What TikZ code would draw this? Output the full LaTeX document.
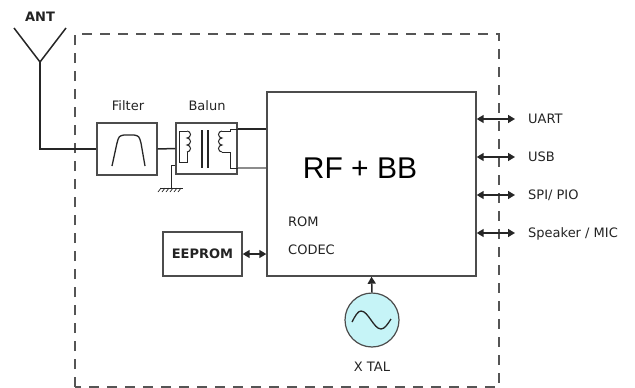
\documentclass[tikz,border=0pt]{standalone}
\usepackage{fontspec}
\setmainfont{Liberation Sans}
\newfontfamily\labelFont{DejaVu Sans}
\usetikzlibrary{positioning,arrows.meta}
\tikzstyle{sheet} = [x = 1pt, y = -1pt]
\definecolor{borderColor}{RGB}{85,85,85}
\definecolor{xtalColor}{RGB}{198,244,247}
\definecolor{textColor}{RGB}{35,35,35}
\tikzstyle{blockStyle} = [draw=black!70, line width=1.4pt, fill=white, inner sep=0pt]
\tikzstyle{borderStyle} = [color=borderColor, line width=2.6pt, dash pattern=on 10pt off 8pt]
\tikzstyle{wireStyle} = [color=black!85, line width=1.5pt]
\tikzstyle{thinWire} = [color=black!85, line width=1pt]
\tikzstyle{labelText} = [font=\labelFont\fontsize{13}{13}\selectfont, text=textColor, inner sep=0pt, text height=9.4pt, text depth=0pt]
\tikzstyle{tipStyle} = [wireStyle, {Triangle[length=7pt,width=8pt]}-{Triangle[length=7pt,width=8pt]}]
\newcommand{\coilRight}[2]{\draw [thinWire] (#1,#2) arc (-90:90:3.5) arc (-90:90:3.5) arc (-90:90:3.5);}
\newcommand{\coilLeft}[2]{\draw [thinWire] (#1,#2) arc (-90:-270:3.5) arc (-90:-270:3.5) arc (-90:-270:3.5);}
\newcommand{\groundHatch}[2]{
  \draw [thinWire] (#1 - 11, #2) -- + (23,0);
  \foreach \hatch in {0,...,5} {
    \draw [thinWire, line width=.7pt] (#1 - 10 + 4 * \hatch, #2) -- + (-3,4);
  }
}

\begin{document}
\begin{tikzpicture}[sheet]
  \useasboundingbox (0,0) rectangle (635,388);
  \draw [borderStyle] (75,387) -- (75,34) -- (499,34) -- (499,387) -- cycle;

  \coordinate (antTip) at (40,62);
  \draw [wireStyle] (14,28) -- (antTip) -- (66,28);
  \node [labelText, font=\labelFont\fontsize{13}{13}\selectfont\bfseries] (antLabel) at (40,17) {ANT};

  \node [blockStyle, minimum width=60pt, minimum height=52pt] (filter) at (127,149) {};
  \node [blockStyle, minimum width=61pt, minimum height=51pt] (balun) at (206.5,148.5) {};
  \node [blockStyle, minimum width=209pt, minimum height=184pt] (rfbb) at (371.5,184) {};
  \node [blockStyle, minimum width=79pt, minimum height=44pt, labelText, font=\labelFont\fontsize{13}{13}\selectfont\bfseries] (eeprom) at (202.5,254) {EEPROM};
  \node [circle, draw=black!70, line width=1.2pt, fill=xtalColor, minimum size=54pt, inner sep=0pt] (xtal) at (372,320) {};

  \node [labelText] (filterLabel) at (128,106) {Filter};
  \node [labelText] (balunLabel) at (207,106) {Balun};
  \node [font=\fontsize{30}{30}\selectfont, text=black, inner sep=0pt] (rfbbText) at (360,168) {RF + BB};
  \node [labelText, anchor=west] (romText) at (288,222) {ROM};
  \node [labelText, anchor=west] (codecText) at (288,250) {CODEC};
  \node [labelText] (xtalLabel) at (372,367) {X TAL};

  \node [labelText, anchor=west] (uart) at (528,119) {UART};
  \node [labelText, anchor=west] (usb) at (528,157) {USB};
  \node [labelText, anchor=west] (spi) at (528,195) {SPI/ PIO};
  \node [labelText, anchor=west] (speaker) at (528,233) {Speaker / MIC};

  \draw [wireStyle] (antTip) |- (filter.west);
  \draw [wireStyle] (filter.east) -- (balun.west);
  \draw [wireStyle] (balun.east |- 0,129) -- (rfbb.west |- 0,129);
  \draw [wireStyle, color=black!45] (balun.east |- 0,168) -- (rfbb.west |- 0,168);
  \draw [tipStyle] (eeprom.east) -- (eeprom.east -| rfbb.west);
  \draw [wireStyle, -{Triangle[length=7pt,width=8pt]}] (xtal.north) -- (rfbb.south);
  \foreach \port in {uart,usb,spi,speaker} {
    \draw [tipStyle] (rfbb.east |- \port.west) -- ([xshift=-13pt]\port.west);
  }

  \draw [thinWire, line width=1.3pt] (112,166) -- (117,143) .. controls (119,136) .. (124,135) -- (134,135) .. controls (139,136) .. (141,143) -- (145,166);
  \draw [thinWire, line width=1.3pt] (352,322) sin (361,311) cos (371,320) sin (381,329) cos (391,319);

  \draw [thinWire] (179,162) -- (179,131) -- (187,131);
  \coilRight{187}{131}
  \draw [thinWire] (187,152) -- (187,162) -- (179,162);
  \draw [wireStyle, line width=2pt] (202,130) -- (202,168);
  \draw [wireStyle, line width=2pt] (208,130) -- (208,168);
  \coilLeft{222}{131}
  \draw [thinWire] (222,131) -- (230,131) -- (230,129) -- (balun.east |- 0,129);
  \draw [thinWire] (222,152) -- (230,152) -- (230,168) -- (balun.east |- 0,168);
  \draw [thinWire] (balun.west |- 0,165) -- (171,165) -- (171,188);
  \groundHatch{171}{188}
\end{tikzpicture}
\end{document}
